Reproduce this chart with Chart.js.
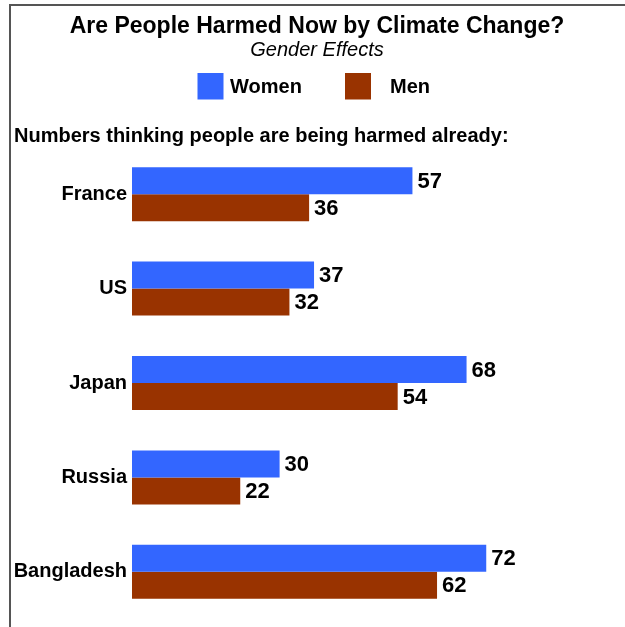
<!DOCTYPE html>
<html lang="en">
  <head>
    <meta charset="UTF-8" />
    <meta name="viewport" content="width=device-width, initial-scale=1.0" />
    <script src="https://cdn.jsdelivr.net/npm/chart.js@4.4.0/dist/chart.umd.min.js"></script>
    <title>Are People Harmed Now by Climate Change?</title>
    <style>
      html,
      body {
        margin: 0;
        padding: 0;
        background: #fff;
      }
      .canvas-container {
        position: relative;
        width: 625px;
        height: 627px;
      }
    </style>
  </head>
  <body>
    <div class="canvas-container">
      <canvas id="myChart"></canvas>
    </div>

    <script>
      // Share of people who think climate change is harming people already (%)
      const countries = ["France", "US", "Japan", "Russia", "Bangladesh"];
      const women = [57, 37, 68, 30, 72];
      const men = [36, 32, 54, 22, 62];
      const seriesNames = ["Women", "Men"];
      const seriesColors = ["#3366ff", "#993300"];
      const heading = "Numbers thinking people are being harmed already:";

      const family = "'Liberation Sans', Arial, Helvetica, sans-serif";

      // grey frame on the top and left edges
      const framePlugin = {
        id: "frame",
        afterDraw(chart) {
          const ctx = chart.ctx;
          ctx.save();
          ctx.strokeStyle = "#555";
          ctx.lineWidth = 2;
          ctx.beginPath();
          ctx.moveTo(9, 5);
          ctx.lineTo(chart.width, 5);
          ctx.moveTo(10, 4);
          ctx.lineTo(10, chart.height);
          ctx.stroke();
          ctx.restore();
        },
      };

      // legend boxes and the heading above the bars
      const keyPlugin = {
        id: "key",
        afterDraw(chart) {
          const ctx = chart.ctx;
          const boxX = [197.5, 345];
          const textX = [230, 390];
          ctx.save();
          ctx.font = "bold 20px " + family;
          ctx.textBaseline = "middle";
          ctx.textAlign = "left";
          chart.data.datasets.forEach((ds, i) => {
            ctx.fillStyle = ds.backgroundColor;
            ctx.fillRect(boxX[i], 73, 26, 26.5);
            ctx.fillStyle = "#000";
            ctx.fillText(ds.label, textX[i], 87);
          });
          ctx.textBaseline = "alphabetic";
          ctx.fillText(heading, 14, 141.5);
          ctx.restore();
        },
      };

      // value printed at the end of each bar
      const valuePlugin = {
        id: "values",
        afterDatasetsDraw(chart) {
          const ctx = chart.ctx;
          ctx.save();
          ctx.font = "bold 22px " + family;
          ctx.fillStyle = "#000";
          ctx.textAlign = "left";
          ctx.textBaseline = "middle";
          chart.data.datasets.forEach((ds, i) => {
            chart.getDatasetMeta(i).data.forEach((bar, j) => {
              ctx.fillText(ds.data[j], bar.x + 5, bar.y + 1);
            });
          });
          ctx.restore();
        },
      };

      const ctx = document.getElementById("myChart").getContext("2d");
      const myChart = new Chart(ctx, {
        type: "bar",
        data: {
          labels: countries,
          datasets: [
            {
              label: seriesNames[0],
              data: women,
              backgroundColor: seriesColors[0],
              borderWidth: 0,
            },
            {
              label: seriesNames[1],
              data: men,
              backgroundColor: seriesColors[1],
              borderWidth: 0,
            },
          ],
        },
        options: {
          indexAxis: "y",
          responsive: true,
          maintainAspectRatio: false,
          animation: false,
          categoryPercentage: 0.572,
          barPercentage: 1,
          layout: {
            padding: { top: 0, left: 10, right: 1, bottom: 8 },
          },
          plugins: {
            legend: { display: false },
            tooltip: { enabled: false },
            title: {
              display: true,
              text: "Are People Harmed Now by Climate Change?",
              color: "#000",
              font: { family, size: 23, weight: "bold", lineHeight: 1 },
              padding: { top: 15, bottom: 0 },
            },
            subtitle: {
              display: true,
              text: "Gender Effects",
              color: "#000",
              font: { family, size: 20, style: "italic", weight: "normal" },
              padding: { top: 0, bottom: 85 },
            },
          },
          scales: {
            x: {
              display: false,
              min: 0,
              max: 100,
            },
            y: {
              grid: { display: false, drawTicks: false },
              border: { display: false },
              ticks: {
                color: "#000",
                padding: 5,
                font: { family, size: 20, weight: "bold" },
              },
              afterFit(scale) {
                scale.width = 122;
                scale.paddingTop = 0;
                scale.paddingBottom = 0;
              },
            },
          },
        },
        plugins: [framePlugin, keyPlugin, valuePlugin],
      });
    </script>
  </body>
</html>
